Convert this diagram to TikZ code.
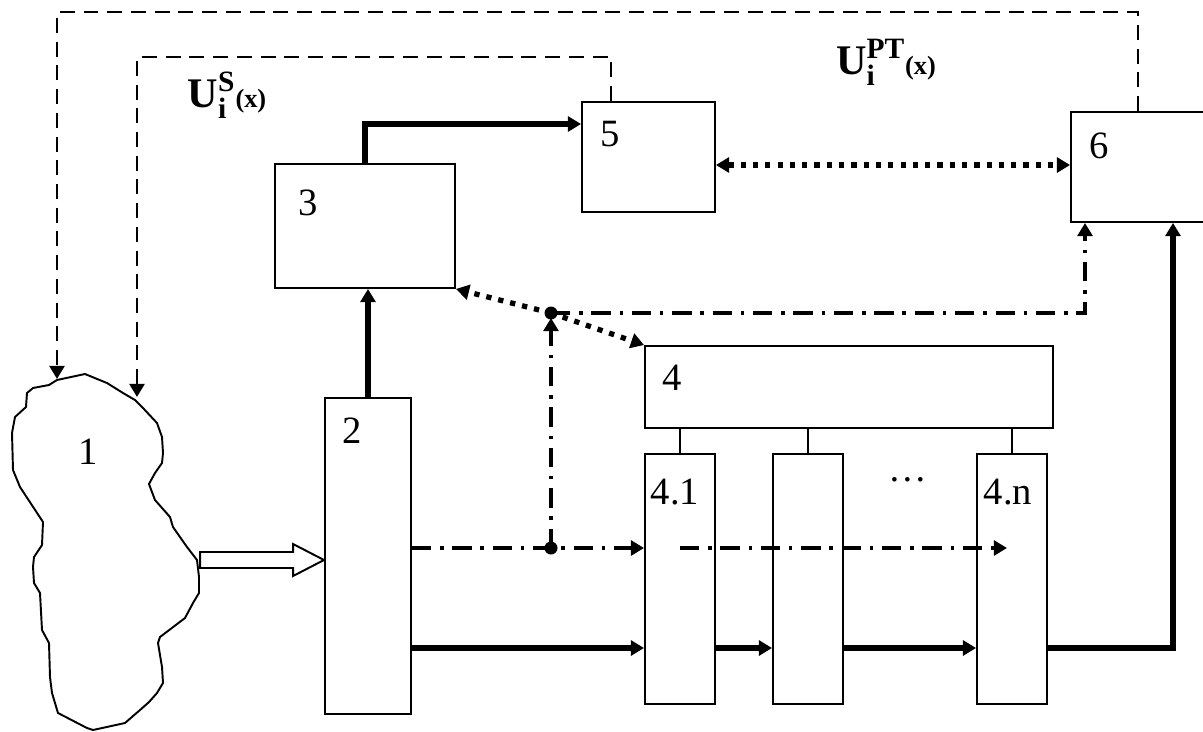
\documentclass[tikz,border=0pt]{standalone}
\usepackage{fontspec}
\setmainfont{Liberation Serif}
\usetikzlibrary{arrows.meta}

\begin{document}
\begin{tikzpicture}[x=0.02cm, y=-0.02cm,
  box/.style={draw, line width=1.1pt, inner sep=0pt},
  num/.style={font=\fontsize{22}{26}\selectfont, inner sep=0pt},
  sig/.style={font=\fontsize{24}{28}\selectfont\bfseries, inner sep=0pt},
  flow/.style={line width=3.2pt},
  fb/.style={line width=1.6pt, dash pattern=on 8.5pt off 5pt},
  ctl/.style={line width=2.3pt, dash pattern=on 11pt off 5pt on 2pt off 5pt},
  link/.style={line width=3pt, dash pattern=on 3pt off 4pt},
  >={Triangle[length=7.5pt,width=8.5pt]}]

\useasboundingbox (0,0) rectangle (1203,731);

% Draw the object (block 1)
\draw[line width=1.1pt]
  (57,380) -- (85,374) -- (107,383) -- (123,393) -- (135,400) -- (143,408)
  -- (157,423) -- (162,437) -- (163,453) -- (162,463) -- (155,473) -- (149,484)
  -- (155,500) -- (170,517) -- (173,527) -- (187,547) -- (197,560) -- (199,577)
  -- (199,593) -- (193,603) -- (185,618) -- (160,637) -- (158,643) -- (162,667)
  -- (163,683) -- (157,693) -- (149,702) -- (140,710) -- (125,723) -- (93,730)
  -- (87,728) -- (58,713) -- (52,693) -- (50,677) -- (49,643) -- (42,630)
  -- (40,593) -- (34,583) -- (33,567) -- (34,557) -- (42,545) -- (43,522)
  -- (20,487) -- (13,470) -- (12,433) -- (15,417) -- (26,407) -- (27,393)
  -- (33,388) -- (49,385) -- cycle;
\coordinate (objA) at (57,379);
\coordinate (objB) at (137,397);
\node[num] (n1) at (88,452) {1};

% Blocks
\node[box, minimum width=1.72cm, minimum height=6.32cm] (b2) at (368,556) {};
\node[box, minimum width=3.6cm, minimum height=2.48cm] (b3) at (365,226) {};
\node[box, minimum width=2.66cm, minimum height=2.2cm] (b5) at (648.5,157) {};
\node[box, minimum width=2.68cm, minimum height=2.2cm] (b6) at (1138,167) {};
\node[box, minimum width=8.16cm, minimum height=1.64cm] (b4) at (849,387) {};
\node[box, minimum width=1.4cm, minimum height=5cm] (b41) at (680,579) {};
\node[box, minimum width=1.4cm, minimum height=5cm] (b42) at (808,579) {};
\node[box, minimum width=1.4cm, minimum height=5cm] (b4n) at (1012,579) {};

% Block numbers
\node[num] (n2) at ([shift={(28,34)}]b2.north west) {2};
\node[num] (n3) at ([shift={(34,40)}]b3.north west) {3};
\node[num] (n4) at ([shift={(28,33)}]b4.north west) {4};
\node[num] (n41) at ([shift={(31,39)}]b41.north west) {4.1};
\node[num] (n4n) at ([shift={(32,39)}]b4n.north west) {4.n};
\node[num] (n5) at ([shift={(29,33)}]b5.north west) {5};
\node[num] (n6) at ([shift={(29,35)}]b6.north west) {6};
\node[num] (dots) at (908,480) {\ldots};

% Signal labels
\node[sig] (us) at (227,95) {$\mathbf{U_i^{S}}$\fontsize{15}{18}\selectfont(x)};
\node[sig] (upt) at (886,62) {$\mathbf{U_i^{PT}}$\fontsize{15}{18}\selectfont(x)};

% Input from the object: hollow arrow
\coordinate (inTip) at (b2.west |- 0,560);
\draw[line width=1.1pt] (inTip) -- ++(-31,-16) -- ++(0,8) -- ++(-93,0)
  -- ++(0,16) -- ++(93,0) -- ++(0,8) -- cycle;

% Sub-blocks hang on block 4
\foreach \s in {b41,b42,b4n}
  \draw[line width=1.1pt] (\s.north) -- (\s.north |- b4.south);

% Rows of the horizontal lines
\coordinate (mainrow) at (0,648);
\coordinate (ctlrow) at (0,548);
\coordinate (toprow) at (0,124);
\coordinate (linkrow) at (0,165);
\coordinate (tap) at (551,548);
\coordinate (hub) at (551,313);

% Main data flow
\draw[flow, ->] (b2.north) -- (b2.north |- b3.south);
\draw[flow, ->] (b3.north) |- (b5.west |- toprow);
\draw[flow, ->] (b2.east |- mainrow) -- (b41.west |- mainrow);
\draw[flow, ->] (b41.east |- mainrow) -- (b42.west |- mainrow);
\draw[flow, ->] (b42.east |- mainrow) -- (b4n.west |- mainrow);
\draw[flow, ->] (b4n.east |- mainrow) -| ([xshift=0.7cm]b6.south);

% Control lines
\draw[ctl, ->] (b2.east |- ctlrow) -- (b41.west |- ctlrow);
\draw[ctl, ->] (b41.center |- ctlrow) -- ([xshift=-0.1cm]b4n.center |- ctlrow);
\draw[ctl, ->] (tap) -- ([yshift=-0.1cm]hub);
\draw[ctl, ->] (hub) -| ([xshift=-1.06cm]b6.south);
\fill (tap) circle (0.13cm);
\fill (hub) circle (0.13cm);

% Exchange links
\draw[link, ->] (hub) -- (b3.south east);
\draw[link, ->] (hub) -- (b4.north west);
\draw[link, <->] (b5.east |- linkrow) -- (b6.west |- linkrow);

% Feedback to the object
\draw[fb, ->] (b6.north) -- ++(0,-99) -| (objA);
\draw[fb, ->] ([xshift=-0.75cm]b5.north) -- ++(0,-44) -| (objB);

\end{tikzpicture}
\end{document}
